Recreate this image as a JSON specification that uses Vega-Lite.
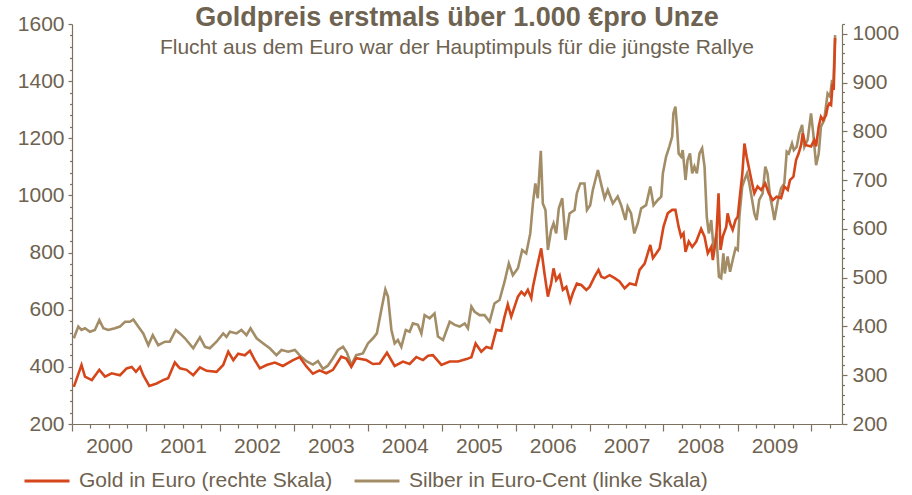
{
  "$schema": "https://vega.github.io/schema/vega-lite/v6.json",
  "width": 770,
  "height": 400,
  "autosize": {"type": "none"},
  "padding": {"left": 72, "top": 24, "right": 70, "bottom": 71},
  "background": "white",
  "config": {
    "font": "Liberation Sans",
    "view": {"stroke": null},
    "axis": {"labelColor": "#6e6250", "domainColor": "#7d725f", "tickColor": "#7d725f", "labelFontSize": 21, "labelFont": "Liberation Sans", "grid": false, "title": null, "domainWidth": 1.2, "tickWidth": 1.2}
  },
  "title": {
    "text": "Goldpreis erstmals über 1.000 €pro Unze",
    "subtitle": "Flucht aus dem Euro war der Hauptimpuls für die jüngste Rallye",
    "anchor": "middle",
    "orient": "top",
    "offset": -46,
    "font": "Liberation Sans",
    "fontSize": 27,
    "fontWeight": "bold",
    "color": "#6e6250",
    "subtitleFont": "Liberation Sans",
    "subtitleFontSize": 21,
    "subtitleColor": "#6e6250",
    "subtitlePadding": 5
  },
  "datasets": {
    "gold": [
      {"d":"2000-01-10","v":276},{"d":"2000-02-17","v":321},{"d":"2000-03-05","v":297},{"d":"2000-04-08","v":290},{"d":"2000-05-15","v":311},{"d":"2000-06-12","v":297},{"d":"2000-07-15","v":304},{"d":"2000-08-25","v":300},{"d":"2000-09-27","v":314},{"d":"2000-10-22","v":317},{"d":"2000-11-12","v":307},{"d":"2000-12-02","v":317},{"d":"2000-12-18","v":300},
      {"d":"2001-01-17","v":278},{"d":"2001-02-22","v":283},{"d":"2001-03-26","v":290},{"d":"2001-04-20","v":294},{"d":"2001-05-23","v":326},{"d":"2001-06-17","v":314},{"d":"2001-07-20","v":311},{"d":"2001-08-22","v":300},{"d":"2001-09-24","v":316},{"d":"2001-10-27","v":309},{"d":"2001-12-15","v":307},
      {"d":"2002-01-17","v":321},{"d":"2002-02-11","v":348},{"d":"2002-03-08","v":331},{"d":"2002-04-01","v":344},{"d":"2002-05-04","v":341},{"d":"2002-05-29","v":350},{"d":"2002-06-22","v":331},{"d":"2002-07-17","v":314},{"d":"2002-08-19","v":321},{"d":"2002-09-29","v":326},{"d":"2002-11-08","v":319},{"d":"2002-12-28","v":331},
      {"d":"2003-01-30","v":337},{"d":"2003-03-04","v":318},{"d":"2003-04-05","v":303},{"d":"2003-05-08","v":310},{"d":"2003-06-10","v":304},{"d":"2003-07-13","v":311},{"d":"2003-08-23","v":338},{"d":"2003-09-17","v":334},{"d":"2003-10-12","v":317},{"d":"2003-11-05","v":335},{"d":"2003-12-25","v":331},
      {"d":"2004-01-27","v":323},{"d":"2004-02-29","v":324},{"d":"2004-04-05","v":346},{"d":"2004-05-13","v":319},{"d":"2004-06-23","v":328},{"d":"2004-07-26","v":323},{"d":"2004-08-28","v":337},{"d":"2004-09-30","v":331},{"d":"2004-10-25","v":340},{"d":"2004-11-18","v":341},{"d":"2004-12-30","v":321},
      {"d":"2005-02-09","v":328},{"d":"2005-03-22","v":328},{"d":"2005-05-03","v":333},{"d":"2005-05-27","v":337},{"d":"2005-06-17","v":365},{"d":"2005-07-15","v":348},{"d":"2005-08-09","v":358},{"d":"2005-09-03","v":355},{"d":"2005-09-27","v":393},{"d":"2005-10-22","v":391},{"d":"2005-11-07","v":420},{"d":"2005-11-23","v":445},{"d":"2005-12-10","v":420},{"d":"2005-12-26","v":440},
      {"d":"2006-01-12","v":461},{"d":"2006-01-29","v":471},{"d":"2006-02-14","v":464},{"d":"2006-03-02","v":475},{"d":"2006-03-19","v":458},{"d":"2006-03-27","v":481},{"d":"2006-04-15","v":519},{"d":"2006-05-07","v":560},{"d":"2006-05-23","v":509},{"d":"2006-06-09","v":461},{"d":"2006-06-25","v":488},{"d":"2006-07-07","v":519},{"d":"2006-07-20","v":495},{"d":"2006-08-06","v":505},{"d":"2006-08-22","v":475},{"d":"2006-09-08","v":481},{"d":"2006-09-27","v":451},{"d":"2006-10-10","v":468},{"d":"2006-10-30","v":488},{"d":"2006-11-21","v":485},{"d":"2006-12-16","v":475},
      {"d":"2007-01-01","v":481},{"d":"2007-01-26","v":502},{"d":"2007-02-14","v":516},{"d":"2007-02-28","v":502},{"d":"2007-03-16","v":499},{"d":"2007-04-10","v":505},{"d":"2007-05-05","v":499},{"d":"2007-05-29","v":492},{"d":"2007-06-23","v":478},{"d":"2007-07-18","v":488},{"d":"2007-08-17","v":485},{"d":"2007-09-05","v":516},{"d":"2007-09-30","v":529},{"d":"2007-10-28","v":567},{"d":"2007-11-10","v":540},{"d":"2007-11-27","v":550},{"d":"2007-12-13","v":560},
      {"d":"2008-01-01","v":604},{"d":"2008-01-22","v":632},{"d":"2008-02-13","v":639},{"d":"2008-02-29","v":639},{"d":"2008-03-16","v":604},{"d":"2008-03-28","v":584},{"d":"2008-04-09","v":591},{"d":"2008-04-19","v":553},{"d":"2008-05-05","v":574},{"d":"2008-05-22","v":563},{"d":"2008-06-11","v":574},{"d":"2008-07-05","v":600},{"d":"2008-07-22","v":584},{"d":"2008-08-07","v":550},{"d":"2008-08-24","v":563},{"d":"2008-09-01","v":536},{"d":"2008-09-18","v":584},{"d":"2008-09-29","v":673},{"d":"2008-10-09","v":557},{"d":"2008-10-20","v":584},{"d":"2008-11-06","v":604},{"d":"2008-11-13","v":632},{"d":"2008-11-25","v":611},{"d":"2008-12-08","v":598},{"d":"2008-12-22","v":618},
      {"d":"2009-01-02","v":625},{"d":"2009-01-14","v":673},{"d":"2009-01-24","v":710},{"d":"2009-02-04","v":775},{"d":"2009-02-15","v":748},{"d":"2009-02-28","v":721},{"d":"2009-03-14","v":693},{"d":"2009-03-25","v":673},{"d":"2009-04-10","v":687},{"d":"2009-04-27","v":680},{"d":"2009-05-18","v":693},{"d":"2009-06-04","v":673},{"d":"2009-06-24","v":659},{"d":"2009-07-13","v":666},{"d":"2009-08-04","v":663},{"d":"2009-08-20","v":687},{"d":"2009-09-06","v":680},{"d":"2009-09-17","v":700},{"d":"2009-10-04","v":707},{"d":"2009-10-17","v":741},{"d":"2009-10-30","v":755},{"d":"2009-11-11","v":772},{"d":"2009-11-19","v":796},{"d":"2009-12-02","v":772},{"d":"2009-12-30","v":769},
      {"d":"2010-01-15","v":782},{"d":"2010-01-24","v":769},{"d":"2010-02-06","v":810},{"d":"2010-02-17","v":830},{"d":"2010-02-28","v":823},{"d":"2010-03-14","v":833},{"d":"2010-03-22","v":850},{"d":"2010-03-30","v":857},{"d":"2010-04-08","v":854},{"d":"2010-04-16","v":898},{"d":"2010-04-21","v":885},{"d":"2010-04-28","v":991}
    ],
    "silber": [
      {"d":"2000-01-10","v":500},{"d":"2000-02-01","v":541},{"d":"2000-02-17","v":529},{"d":"2000-03-05","v":535},{"d":"2000-03-30","v":523},{"d":"2000-04-23","v":529},{"d":"2000-05-15","v":564},{"d":"2000-06-04","v":535},{"d":"2000-06-28","v":529},{"d":"2000-07-31","v":535},{"d":"2000-08-25","v":541},{"d":"2000-09-19","v":558},{"d":"2000-10-13","v":558},{"d":"2000-10-30","v":566},{"d":"2000-11-23","v":541},{"d":"2000-12-18","v":517},
      {"d":"2001-01-12","v":476},{"d":"2001-02-03","v":511},{"d":"2001-03-02","v":476},{"d":"2001-04-04","v":488},{"d":"2001-04-28","v":488},{"d":"2001-05-28","v":529},{"d":"2001-06-17","v":517},{"d":"2001-07-12","v":500},{"d":"2001-08-22","v":465},{"d":"2001-09-24","v":503},{"d":"2001-10-19","v":470},{"d":"2001-11-12","v":465},{"d":"2001-12-15","v":488},
      {"d":"2002-01-17","v":517},{"d":"2002-02-02","v":505},{"d":"2002-02-19","v":523},{"d":"2002-03-24","v":517},{"d":"2002-04-17","v":529},{"d":"2002-05-12","v":511},{"d":"2002-06-01","v":535},{"d":"2002-07-01","v":500},{"d":"2002-08-03","v":482},{"d":"2002-09-04","v":465},{"d":"2002-10-07","v":441},{"d":"2002-11-01","v":459},{"d":"2002-12-04","v":453},
      {"d":"2003-01-06","v":459},{"d":"2003-01-30","v":440},{"d":"2003-03-04","v":420},{"d":"2003-04-05","v":408},{"d":"2003-04-30","v":420},{"d":"2003-05-25","v":393},{"d":"2003-06-18","v":404},{"d":"2003-07-13","v":430},{"d":"2003-08-07","v":459},{"d":"2003-09-01","v":470},{"d":"2003-09-20","v":450},{"d":"2003-10-12","v":406},{"d":"2003-11-05","v":441},{"d":"2003-12-08","v":447},
      {"d":"2004-01-02","v":482},{"d":"2004-01-27","v":500},{"d":"2004-02-15","v":517},{"d":"2004-03-08","v":599},{"d":"2004-03-28","v":671},{"d":"2004-04-10","v":646},{"d":"2004-04-27","v":529},{"d":"2004-05-13","v":482},{"d":"2004-05-29","v":494},{"d":"2004-06-15","v":470},{"d":"2004-07-07","v":529},{"d":"2004-07-26","v":523},{"d":"2004-08-11","v":552},{"d":"2004-09-05","v":547},{"d":"2004-09-22","v":517},{"d":"2004-10-08","v":581},{"d":"2004-11-02","v":570},{"d":"2004-11-26","v":587},{"d":"2004-12-13","v":506},
      {"d":"2005-01-07","v":494},{"d":"2005-02-09","v":558},{"d":"2005-03-06","v":547},{"d":"2005-03-30","v":541},{"d":"2005-04-24","v":552},{"d":"2005-05-10","v":535},{"d":"2005-05-27","v":611},{"d":"2005-06-12","v":593},{"d":"2005-07-07","v":581},{"d":"2005-07-31","v":581},{"d":"2005-08-25","v":558},{"d":"2005-09-18","v":622},{"d":"2005-10-13","v":634},{"d":"2005-11-07","v":698},{"d":"2005-11-28","v":762},{"d":"2005-12-18","v":721},
      {"d":"2006-01-12","v":745},{"d":"2006-02-02","v":809},{"d":"2006-02-22","v":797},{"d":"2006-03-14","v":867},{"d":"2006-03-27","v":972},{"d":"2006-04-08","v":1042},{"d":"2006-04-20","v":990},{"d":"2006-05-05","v":1156},{"d":"2006-05-15","v":972},{"d":"2006-05-28","v":949},{"d":"2006-06-09","v":809},{"d":"2006-06-25","v":879},{"d":"2006-07-07","v":902},{"d":"2006-07-20","v":867},{"d":"2006-08-02","v":955},{"d":"2006-08-19","v":990},{"d":"2006-09-04","v":844},{"d":"2006-09-24","v":937},{"d":"2006-10-19","v":949},{"d":"2006-10-30","v":1007},{"d":"2006-11-16","v":1042},{"d":"2006-12-07","v":1042},{"d":"2006-12-19","v":949},
      {"d":"2007-01-04","v":966},{"d":"2007-01-17","v":1019},{"d":"2007-02-11","v":1089},{"d":"2007-02-28","v":1037},{"d":"2007-03-16","v":990},{"d":"2007-04-01","v":1019},{"d":"2007-04-26","v":972},{"d":"2007-05-20","v":996},{"d":"2007-06-06","v":966},{"d":"2007-06-27","v":914},{"d":"2007-07-08","v":961},{"d":"2007-07-25","v":937},{"d":"2007-08-10","v":867},{"d":"2007-08-27","v":902},{"d":"2007-09-13","v":955},{"d":"2007-10-07","v":966},{"d":"2007-10-28","v":1031},{"d":"2007-11-13","v":966},{"d":"2007-12-04","v":984},{"d":"2007-12-21","v":996},{"d":"2007-12-29","v":1077},
      {"d":"2008-01-14","v":1136},{"d":"2008-01-30","v":1171},{"d":"2008-02-13","v":1206},{"d":"2008-02-19","v":1287},{"d":"2008-02-29","v":1311},{"d":"2008-03-08","v":1241},{"d":"2008-03-16","v":1147},{"d":"2008-03-28","v":1136},{"d":"2008-04-05","v":1159},{"d":"2008-04-19","v":1054},{"d":"2008-04-29","v":1124},{"d":"2008-05-11","v":1147},{"d":"2008-05-22","v":1077},{"d":"2008-06-02","v":1101},{"d":"2008-06-14","v":1077},{"d":"2008-06-27","v":1147},{"d":"2008-07-10","v":1165},{"d":"2008-07-22","v":1100},{"d":"2008-08-02","v":925},{"d":"2008-08-12","v":867},{"d":"2008-08-24","v":914},{"d":"2008-09-05","v":809},{"d":"2008-09-18","v":867},{"d":"2008-10-01","v":715},{"d":"2008-10-12","v":710},{"d":"2008-10-23","v":797},{"d":"2008-10-30","v":727},{"d":"2008-11-13","v":786},{"d":"2008-11-25","v":733},{"d":"2008-12-08","v":774},{"d":"2008-12-22","v":815},
      {"d":"2009-01-02","v":809},{"d":"2009-01-10","v":926},{"d":"2009-01-24","v":1031},{"d":"2009-02-04","v":1054},{"d":"2009-02-17","v":1077},{"d":"2009-02-28","v":1042},{"d":"2009-03-14","v":984},{"d":"2009-03-25","v":937},{"d":"2009-04-05","v":914},{"d":"2009-04-18","v":984},{"d":"2009-05-05","v":1007},{"d":"2009-05-18","v":1101},{"d":"2009-05-29","v":1077},{"d":"2009-06-11","v":996},{"d":"2009-06-24","v":949},{"d":"2009-07-02","v":914},{"d":"2009-07-18","v":978},{"d":"2009-08-04","v":1025},{"d":"2009-08-20","v":1042},{"d":"2009-09-01","v":1153},{"d":"2009-09-11","v":1147},{"d":"2009-09-27","v":1182},{"d":"2009-10-06","v":1159},{"d":"2009-10-20","v":1170},{"d":"2009-11-02","v":1217},{"d":"2009-11-16","v":1247},{"d":"2009-11-27","v":1170},{"d":"2009-12-13","v":1194},{"d":"2009-12-30","v":1287},
      {"d":"2010-01-10","v":1217},{"d":"2010-01-24","v":1106},{"d":"2010-02-06","v":1147},{"d":"2010-02-17","v":1241},{"d":"2010-03-05","v":1264},{"d":"2010-03-22","v":1357},{"d":"2010-04-03","v":1346},{"d":"2010-04-13","v":1404},{"d":"2010-04-19","v":1381},{"d":"2010-04-28","v":1561}
    ]
  },
  "encoding": {
    "x": {
      "field": "d",
      "type": "temporal",
      "scale": {"domain": ["2000-01-01", "2010-06-01"]},
      "axis": {
        "tickCount": {"interval": "month", "step": 3},
        "labelExpr": "month(datum.value) == 0 && year(datum.value) < 2010 ? timeFormat(datum.value, '%Y') : ''",
        "labelOffset": 37,
        "labelFlush": false,
        "labelOverlap": false,
        "labelPadding": 4,
        "tickSize": {"condition": {"test": "month(datum.value) == 0", "value": 7}, "value": 4}
      }
    }
  },
  "layer": [
    {
      "data": {"name": "silber"},
      "mark": {"type": "line", "strokeWidth": 2.6, "interpolate": "linear"},
      "encoding": {
        "y": {
          "field": "v",
          "type": "quantitative",
          "scale": {"domain": [200, 1600], "nice": false, "zero": false},
          "axis": {
            "orient": "left",
            "values": [200,240,280,320,360,400,440,480,520,560,600,640,680,720,760,800,840,880,920,960,1000,1040,1080,1120,1160,1200,1240,1280,1320,1360,1400,1440,1480,1520,1560,1600],
            "labelExpr": "datum.value % 200 == 0 ? datum.label : ''",
            "format": "d",
            "labelPadding": 4,
            "tickSize": {"condition": {"test": "datum.value % 200 == 0", "value": 4}, "value": 2.5}
          }
        },
        "color": {
          "datum": "Silber in Euro-Cent (linke Skala)",
          "scale": {"domain": ["Gold in Euro (rechte Skala)", "Silber in Euro-Cent (linke Skala)"], "range": ["#d5471b", "#a28d67"]},
          "legend": {
            "orient": "none",
            "direction": "horizontal",
            "legendX": -49,
            "legendY": 433,
            "title": null,
            "symbolType": "stroke",
            "symbolSize": 2025,
            "symbolStrokeWidth": 3,
            "labelFontSize": 21,
            "labelFont": "Liberation Sans",
            "labelColor": "#6e6250",
            "labelOffset": 8,
            "columnPadding": 15,
            "padding": 0,
            "labelLimit": 400
          }
        }
      }
    },
    {
      "data": {"name": "gold"},
      "mark": {"type": "line", "strokeWidth": 2.6, "interpolate": "linear"},
      "encoding": {
        "y": {
          "field": "v",
          "type": "quantitative",
          "scale": {"domain": [200, 1020], "nice": false, "zero": false},
          "axis": {
            "orient": "right",
            "values": [200,220,240,260,280,300,320,340,360,380,400,420,440,460,480,500,520,540,560,580,600,620,640,660,680,700,720,740,760,780,800,820,840,860,880,900,920,940,960,980,1000,1020],
            "labelExpr": "datum.value % 100 == 0 ? datum.label : ''",
            "format": "d",
            "labelPadding": 5,
            "tickSize": {"condition": {"test": "datum.value % 100 == 0", "value": 5}, "value": 2.5}
          }
        },
        "color": {"datum": "Gold in Euro (rechte Skala)"}
      }
    }
  ],
  "resolve": {"scale": {"y": "independent"}}
}
